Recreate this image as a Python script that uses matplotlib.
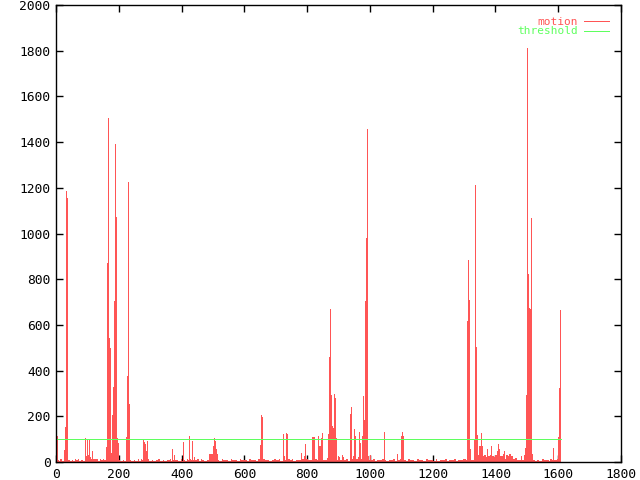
#!/usr/bin/env python3
"""Motion level per frame against the detection threshold (gnuplot-style)."""

import matplotlib

matplotlib.use("Agg")
import matplotlib.pyplot as plt
from matplotlib.lines import Line2D

# frame where each run starts, and the motion value held until the next start
frame_start = [
    0, 2, 5, 10, 14, 18, 25, 28, 32, 36, 39, 45, 50, 54, 60, 64, 70, 74, 80, 86,
    92, 95, 98, 101, 104, 107, 111, 116, 119, 126, 129, 134, 140, 144, 150, 154,
    158, 162, 165, 169, 172, 175, 178, 181, 185, 188, 191, 194, 197, 200, 205,
    212, 218, 223, 226, 229, 232, 235, 240, 248, 252, 260, 264, 270, 274, 278,
    281, 284, 287, 290, 293, 297, 305, 310, 320, 326, 330, 340, 345, 355, 362,
    366, 370, 373, 377, 380, 390, 398, 401, 404, 407, 412, 418, 421, 424, 427,
    430, 433, 436, 440, 443, 450, 455, 462, 466, 472, 480, 487, 497, 501, 504,
    507, 510, 513, 516, 520, 528, 533, 540, 548, 556, 560, 570, 578, 586, 590,
    600, 608, 615, 620, 630, 638, 645, 649, 653, 657, 660, 665, 672, 680, 688,
    693, 696, 700, 710, 715, 722, 725, 729, 733, 736, 739, 745, 752, 756, 765,
    772, 779, 782, 785, 790, 794, 797, 802, 810, 816, 826, 831, 835, 838, 845,
    848, 851, 856, 863, 867, 870, 873, 876, 880, 883, 886, 889, 892, 895, 899,
    902, 905, 911, 914, 917, 925, 930, 937, 940, 943, 946, 950, 953, 956, 960,
    963, 966, 969, 972, 975, 978, 981, 984, 988, 991, 994, 997, 1000, 1003, 1010,
    1015, 1022, 1030, 1037, 1044, 1047, 1052, 1060, 1068, 1075, 1080, 1085, 1088,
    1095, 1099, 1103, 1106, 1109, 1115, 1122, 1128, 1135, 1142, 1150, 1156, 1163,
    1170, 1178, 1185, 1192, 1200, 1210, 1215, 1222, 1230, 1238, 1245, 1252, 1260,
    1268, 1275, 1282, 1290, 1298, 1305, 1308, 1311, 1315, 1318, 1321, 1327, 1331,
    1334, 1337, 1340, 1343, 1346, 1349, 1353, 1356, 1359, 1364, 1370, 1373, 1376,
    1382, 1385, 1388, 1396, 1400, 1405, 1408, 1411, 1414, 1423, 1427, 1430, 1435,
    1440, 1444, 1448, 1455, 1463, 1470, 1480, 1485, 1490, 1494, 1497, 1500, 1504,
    1507, 1510, 1513, 1516, 1519, 1525, 1532, 1540, 1548, 1556, 1563, 1570, 1575,
    1580, 1584, 1587, 1593, 1597, 1599, 1602, 1605,
]
motion_value = [
    133, 114, 10, 6, 12, 6, 52, 153, 1186, 1157, 8, 5, 10, 6, 12, 8, 12, 6, 10, 6,
    105, 28, 101, 32, 98, 20, 15, 48, 15, 62, 12, 6, 14, 8, 15, 10,
    67, 872, 1504, 541, 497, 39, 206, 330, 706, 1392, 1074, 105, 83, 10, 5,
    8, 6, 111, 378, 1225, 255, 10, 6, 10, 5, 12, 6, 15, 8, 100,
    88, 80, 48, 92, 12, 5, 10, 5, 8, 14, 6, 10, 5, 8, 12,
    6, 56, 10, 30, 8, 6, 12, 6, 89, 10, 6, 12, 8, 114, 15,
    8, 93, 10, 22, 8, 12, 6, 14, 8, 5, 10, 35, 35, 70, 106,
    94, 57, 35, 10, 6, 12, 8, 10, 5, 12, 8, 10, 6, 14, 8,
    10, 5, 12, 8, 10, 6, 12, 74, 206, 197, 12, 8, 10, 6, 10,
    188, 15, 8, 12, 6, 123, 28, 10, 128, 123, 12, 8, 14, 6, 10,
    8, 70, 39, 12, 26, 80, 12, 8, 10, 109, 12, 8, 114, 70, 105,
    128, 10, 8, 16, 121, 458, 670, 293, 159, 150, 298, 280, 103, 10, 26,
    22, 10, 29, 24, 10, 12, 6, 210, 241, 13, 25, 144, 114, 12, 14,
    20, 133, 85, 14, 114, 290, 184, 706, 979, 1456, 26, 10, 30, 8, 12,
    6, 10, 8, 12, 133, 10, 6, 10, 8, 12, 6, 35, 8,
    12, 114, 133, 114, 10, 6, 12, 8, 10, 6, 12, 8, 10,
    6, 12, 8, 10, 6, 12, 5, 10, 8, 12, 6, 10, 8,
    12, 6, 10, 8, 12, 9, 617, 884, 709, 57, 10, 8, 95,
    1212, 505, 118, 10, 30, 70, 128, 70, 25, 30, 20, 56, 25,
    30, 70, 25, 20, 30, 48, 79, 57, 25, 35, 50, 15, 30,
    25, 35, 28, 15, 18, 10, 28, 10, 30, 60, 293, 1813, 821,
    674, 670, 1069, 35, 10, 5, 10, 6, 12, 8, 10, 6, 12,
    8, 60, 10, 8, 12, 111, 323, 665,
]
last_frame = 1608
threshold = 100

x_ticks = list(range(0, 1801, 200))
y_ticks = list(range(0, 2001, 200))

MOTION_COLOR = "#ff5555"
THRESHOLD_COLOR = "#5fff5f"
FONT = "DejaVu Sans Mono"

fig = plt.figure(figsize=(6.4, 4.8), dpi=100)
ax = fig.add_axes([56 / 640, 18 / 480, 565 / 640, 457 / 480])

ax.stairs(motion_value, frame_start + [last_frame], baseline=0, fill=True,
          color=MOTION_COLOR, linewidth=0, antialiased=False, zorder=2)
ax.plot([0, last_frame], [threshold, threshold], color=THRESHOLD_COLOR,
        linewidth=0.72, antialiased=False, zorder=3)

ax.set_xlim(0, 1800)
ax.set_ylim(0, 2000)
ax.set_xticks(x_ticks)
ax.set_yticks(y_ticks)
ax.tick_params(direction="in", length=5, width=1, top=True, right=True,
               labelsize=9.3, pad=4)
for label in ax.get_xticklabels() + ax.get_yticklabels():
    label.set_family(FONT)
for spine in ax.spines.values():
    spine.set_linewidth(1)
    spine.set_zorder(4)

handles = [Line2D([], [], color=MOTION_COLOR, lw=0.72),
           Line2D([], [], color=THRESHOLD_COLOR, lw=0.72)]
ax.legend(handles, ["motion", "threshold"], loc="upper right", frameon=False,
          markerfirst=False, labelcolor="linecolor", handlelength=2.3,
          handletextpad=0.5, labelspacing=-0.02, borderaxespad=0.6,
          borderpad=0.45, prop={"family": FONT, "size": 8.0})

fig.savefig("out.png", dpi=100)
